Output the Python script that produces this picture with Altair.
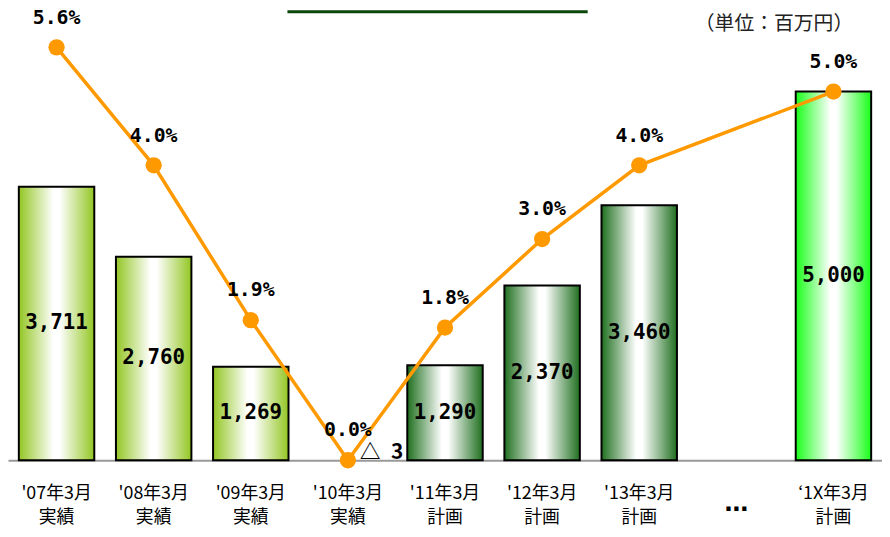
import altair as alt
import pandas as pd

# ---- data ----
periods = ["'07年3月", "'08年3月", "'09年3月", "'10年3月", "'11年3月", "'12年3月", "'13年3月", "‘1X年3月"]
statuses = ["実績", "実績", "実績", "実績", "計画", "計画", "計画", "計画"]
profit = [3711, 2760, 1269, -3, 1290, 2370, 3460, 5000]          # 百万円
margin = [5.6, 4.0, 1.9, 0.0, 1.8, 3.0, 4.0, 5.0]                  # %
groups = ["actual", "actual", "actual", "actual", "plan", "plan", "plan", "target"]
gap_slot = "…"
unit_text = "（単位：百万円）"

cats = [p + "\n" + s for p, s in zip(periods, statuses)]
categories = cats[:7] + [gap_slot] + cats[7:]

df = pd.DataFrame({
    "cat": cats,
    "idx": list(range(len(cats))),
    "profit": profit,
    "margin": margin,
    "group": groups,
})
df["mid"] = df["profit"] / 2
df["label"] = [f"{v:,}" if v >= 0 else "△\u2002" + str(abs(v)) for v in profit]
df["pct_label"] = [f"{m:.1f}%" for m in margin]

# ---- layout ----
W, H = 882, 454
YMAX = 6102
MONO = "DejaVu Sans Mono"
JP = "Noto Sans CJK JP"

x_enc = alt.X(
    "cat:N",
    sort=categories,
    scale=alt.Scale(domain=categories, paddingInner=0.223, paddingOuter=0.1115),
    axis=alt.Axis(
        title=None, labelAngle=0, ticks=False,
        domainColor="#999999", domainWidth=2,
        labelExpr=f"datum.value == '{gap_slot}' ? '' : split(datum.value, '\\n')",
        labelFont=JP, labelFontSize=18, labelColor="#000000",
        labelPadding=25, labelLineHeight=24,
    ),
)
y_bar = alt.Y("profit:Q", scale=alt.Scale(domain=[0, YMAX], nice=False, zero=True), axis=None)
y_mid = alt.Y("mid:Q", scale=alt.Scale(domain=[0, YMAX], nice=False, zero=True), axis=None)
y_pct = alt.Y("margin:Q", scale=alt.Scale(domain=[0, YMAX / 1000], nice=False, zero=True), axis=None)


def grad(edge):
    return alt.Gradient(
        gradient="linear", x1=0, x2=1, y1=0, y2=0,
        stops=[
            alt.GradientStop(offset=0, color=edge),
            alt.GradientStop(offset=0.46, color="#ffffff"),
            alt.GradientStop(offset=0.54, color="#ffffff"),
            alt.GradientStop(offset=1, color=edge),
        ],
    )


base = alt.Chart(df)

def bar_layer(group, edge):
    return base.transform_filter(
        f"datum.group == '{group}' && datum.profit > 0"
    ).mark_bar(fill=grad(edge), stroke="#000000", strokeWidth=2).encode(x=x_enc, y=y_bar)

bars = alt.layer(
    bar_layer("actual", "#93c623"),
    bar_layer("plan", "#1f6f1f"),
    bar_layer("target", "#19ff19"),
    base.transform_filter("datum.profit > 0").mark_text(
        font=MONO, fontWeight="bold", fontSize=21, color="#000000", baseline="middle"
    ).encode(x=x_enc, y=y_mid, text="label:N"),
    base.transform_filter("datum.profit < 0").mark_text(
        font=JP, fontWeight="bold", fontSize=21, color="#000000", baseline="middle", dx=34, dy=-7
    ).encode(x=x_enc, y=y_bar, text="label:N"),
)

line = alt.layer(
    base.mark_line(color="#ff9900", strokeWidth=3.5).encode(x=x_enc, y=y_pct, order="idx:Q"),
    base.mark_circle(color="#ff9900", size=270, opacity=1).encode(x=x_enc, y=y_pct),
    base.mark_text(
        font=MONO, fontWeight="bold", fontSize=20, color="#000000", baseline="middle", dy=-30
    ).encode(x=x_enc, y=y_pct, text="pct_label:N"),
)

one = pd.DataFrame({"cat": [gap_slot], "t": [unit_text]})
extras = alt.layer(
    alt.Chart(one).mark_text(
        font="DejaVu Sans", fontWeight="bold", fontSize=24, color="#000000", baseline="alphabetic"
    ).encode(x=x_enc, y=alt.value(505), text=alt.value(gap_slot)),
    alt.Chart(one).mark_text(
        font=JP, fontSize=20, color="#222222", baseline="top", align="center"
    ).encode(x=alt.value(773), y=alt.value(4), text="t:N"),
    alt.Chart(one).mark_rule(color="#0b460b", strokeWidth=3).encode(
        x=alt.value(282), x2=alt.value(585), y=alt.value(1.5)
    ),
)

chart = alt.layer(bars, line, extras).resolve_scale(y="independent").properties(
    width=W, height=H,
    autosize=alt.AutoSizeParams(type="none"),
    padding={"left": 0, "top": 0, "right": 0, "bottom": 67},
    background="#ffffff",
).configure_view(stroke=None)

chart.save("out.html", embed_options={"renderer": "svg", "actions": False})
